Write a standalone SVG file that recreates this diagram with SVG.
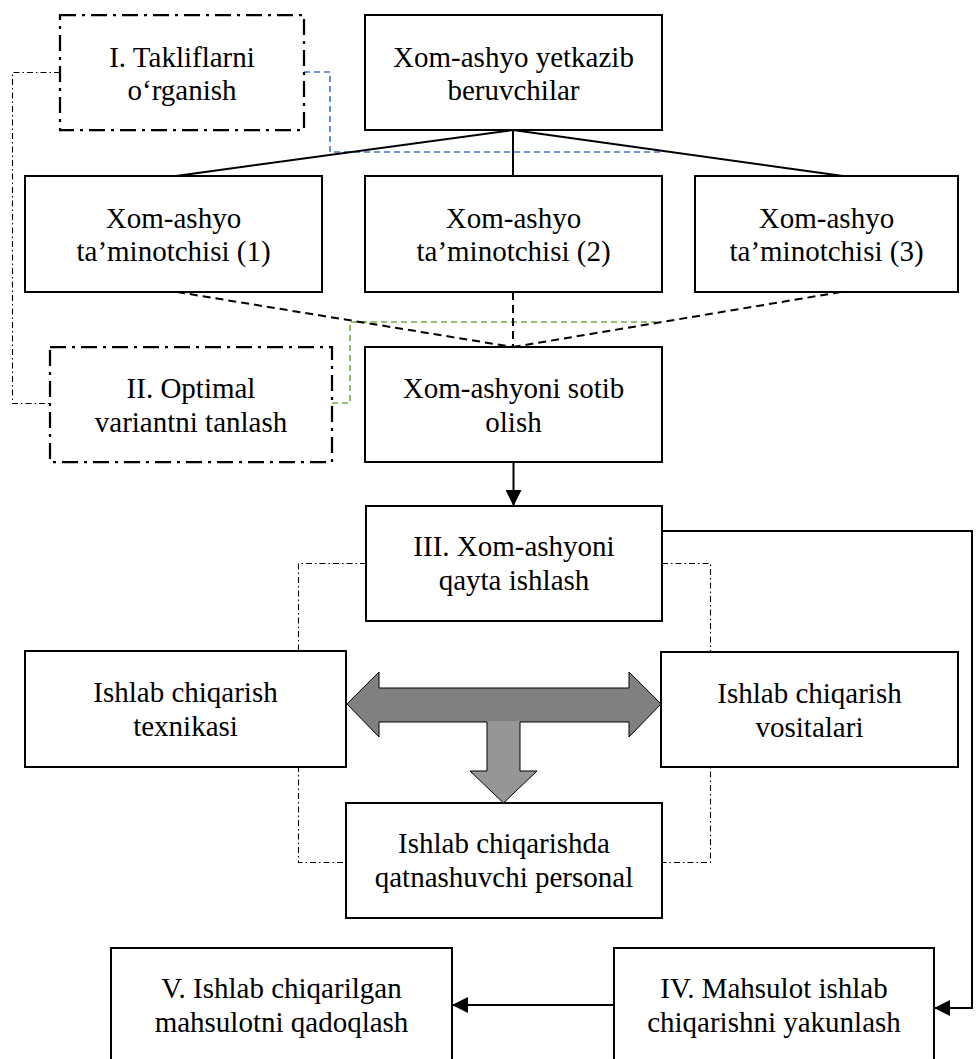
<svg xmlns="http://www.w3.org/2000/svg" width="979" height="1059" viewBox="0 0 979 1059">
<style>
.box{fill:#fff;stroke:#000;stroke-width:2}
.dd{fill:#fff;stroke:#000;stroke-width:2.25;stroke-dasharray:16 6 3 6}
.t{font-family:"Liberation Serif","Times New Roman",serif;font-size:29px;fill:#000;text-anchor:middle}
.solid{fill:none;stroke:#000;stroke-width:2}
.dash{fill:none;stroke:#000;stroke-width:2;stroke-dasharray:8 5}
.thin{fill:none;stroke:#000;stroke-width:1.1;stroke-dasharray:6 3 1.5 3}
.blue{fill:none;stroke:#4472C4;stroke-width:1.6;stroke-dasharray:6 4}
.green{fill:none;stroke:#70AD47;stroke-width:1.6;stroke-dasharray:6 4}
</style>
<defs>
<marker id="ah" markerWidth="16" markerHeight="16" refX="16" refY="8" orient="auto" markerUnits="userSpaceOnUse">
<path d="M0,0 L16,8 L0,16 Z" fill="#000"/>
</marker>
</defs>
<rect width="979" height="1059" fill="#fff"/>
<g id="connectors">
<polyline class="thin" points="60,72.5 12.5,72.5 12.5,403.5 50,403.5"/>
<polyline class="thin" points="366,563.5 298.5,563.5 298.5,862.5 346,862.5"/>
<polyline class="thin" points="662,563.5 710.5,563.5 710.5,862.5 662,862.5"/>
<polyline class="blue" points="304,72 330,72 330,152 662,152"/>
<polyline class="green" points="332,403 350,403 350,322 660,322"/>
<line class="solid" x1="513" y1="130" x2="176" y2="176"/>
<line class="solid" x1="513" y1="130" x2="513" y2="176"/>
<line class="solid" x1="513" y1="130" x2="843" y2="176"/>
<line class="dash" x1="177" y1="292" x2="513" y2="347"/>
<line class="dash" x1="513" y1="292" x2="513" y2="347"/>
<line class="dash" x1="841" y1="292" x2="513" y2="347"/>
<line class="solid" x1="513.5" y1="462" x2="513.5" y2="506" marker-end="url(#ah)"/>
<polyline class="solid" points="662,531 972,531 972,1008 934,1008" marker-end="url(#ah)"/>
<line class="solid" x1="614" y1="1005" x2="452" y2="1005" marker-end="url(#ah)"/>
</g>
<g id="node-takliflar">
<rect class="dd" x="60" y="15" width="244" height="115"/>
<text class="t" x="182" y="67">I. Takliflarni</text>
<text class="t" x="182" y="100">o‘rganish</text>
</g>
<g id="node-yetkazib">
<rect class="box" x="365" y="15" width="297" height="115"/>
<text class="t" x="513.5" y="67">Xom-ashyo yetkazib</text>
<text class="t" x="513.5" y="100">beruvchilar</text>
</g>
<g id="node-taminot1">
<rect class="box" x="25" y="176" width="297" height="116"/>
<text class="t" x="173.5" y="228">Xom-ashyo</text>
<text class="t" x="173.5" y="261">ta’minotchisi (1)</text>
</g>
<g id="node-taminot2">
<rect class="box" x="365" y="176" width="297" height="116"/>
<text class="t" x="513.5" y="228">Xom-ashyo</text>
<text class="t" x="513.5" y="261">ta’minotchisi (2)</text>
</g>
<g id="node-taminot3">
<rect class="box" x="695" y="176" width="263" height="116"/>
<text class="t" x="826.5" y="228">Xom-ashyo</text>
<text class="t" x="826.5" y="261">ta’minotchisi (3)</text>
</g>
<g id="node-optimal">
<rect class="dd" x="50" y="347" width="282" height="115"/>
<text class="t" x="191" y="398">II. Optimal</text>
<text class="t" x="191" y="432">variantni tanlash</text>
</g>
<g id="node-sotib">
<rect class="box" x="365" y="347" width="297" height="115"/>
<text class="t" x="513.5" y="398">Xom-ashyoni sotib</text>
<text class="t" x="513.5" y="432">olish</text>
</g>
<g id="node-qayta">
<rect class="box" x="366" y="506" width="296" height="115"/>
<text class="t" x="514" y="556">III. Xom-ashyoni</text>
<text class="t" x="514" y="590">qayta ishlash</text>
</g>
<g id="node-texnika">
<rect class="box" x="25" y="651" width="321" height="116"/>
<text class="t" x="185.5" y="702">Ishlab chiqarish</text>
<text class="t" x="185.5" y="736">texnikasi</text>
</g>
<g id="node-vositalar">
<rect class="box" x="661" y="652" width="297" height="115"/>
<text class="t" x="809.5" y="703">Ishlab chiqarish</text>
<text class="t" x="809.5" y="737">vositalari</text>
</g>
<g id="node-personal">
<rect class="box" x="346" y="803" width="316" height="115"/>
<text class="t" x="504" y="853">Ishlab chiqarishda</text>
<text class="t" x="504" y="887">qatnashuvchi personal</text>
</g>
<g id="node-qadoqlash">
<rect class="box" x="111" y="948" width="341" height="130"/>
<text class="t" x="281.5" y="998">V. Ishlab chiqarilgan</text>
<text class="t" x="281.5" y="1032">mahsulotni qadoqlash</text>
</g>
<g id="node-yakunlash">
<rect class="box" x="614" y="948" width="320" height="130"/>
<text class="t" x="774" y="998">IV. Mahsulot ishlab</text>
<text class="t" x="774" y="1032">chiqarishni yakunlash</text>
</g>
<g id="gray-arrow">
<polygon points="347,704 379,672 379,688 629,688 629,672 661,704 629,737 629,722 379,722 379,737" fill="#808080"/>
<polygon points="487,721 520,721 520,771 537,771 503.5,803 470,771 487,771" fill="#969696"/>
<polygon points="347,704 379,672 379,688 629,688 629,672 661,704 629,737 629,722 520,722 520,771 537,771 503.5,803 470,771 487,771 487,722 379,722 379,737" fill="none" stroke="#000" stroke-width="1"/>
</g>
</svg>
